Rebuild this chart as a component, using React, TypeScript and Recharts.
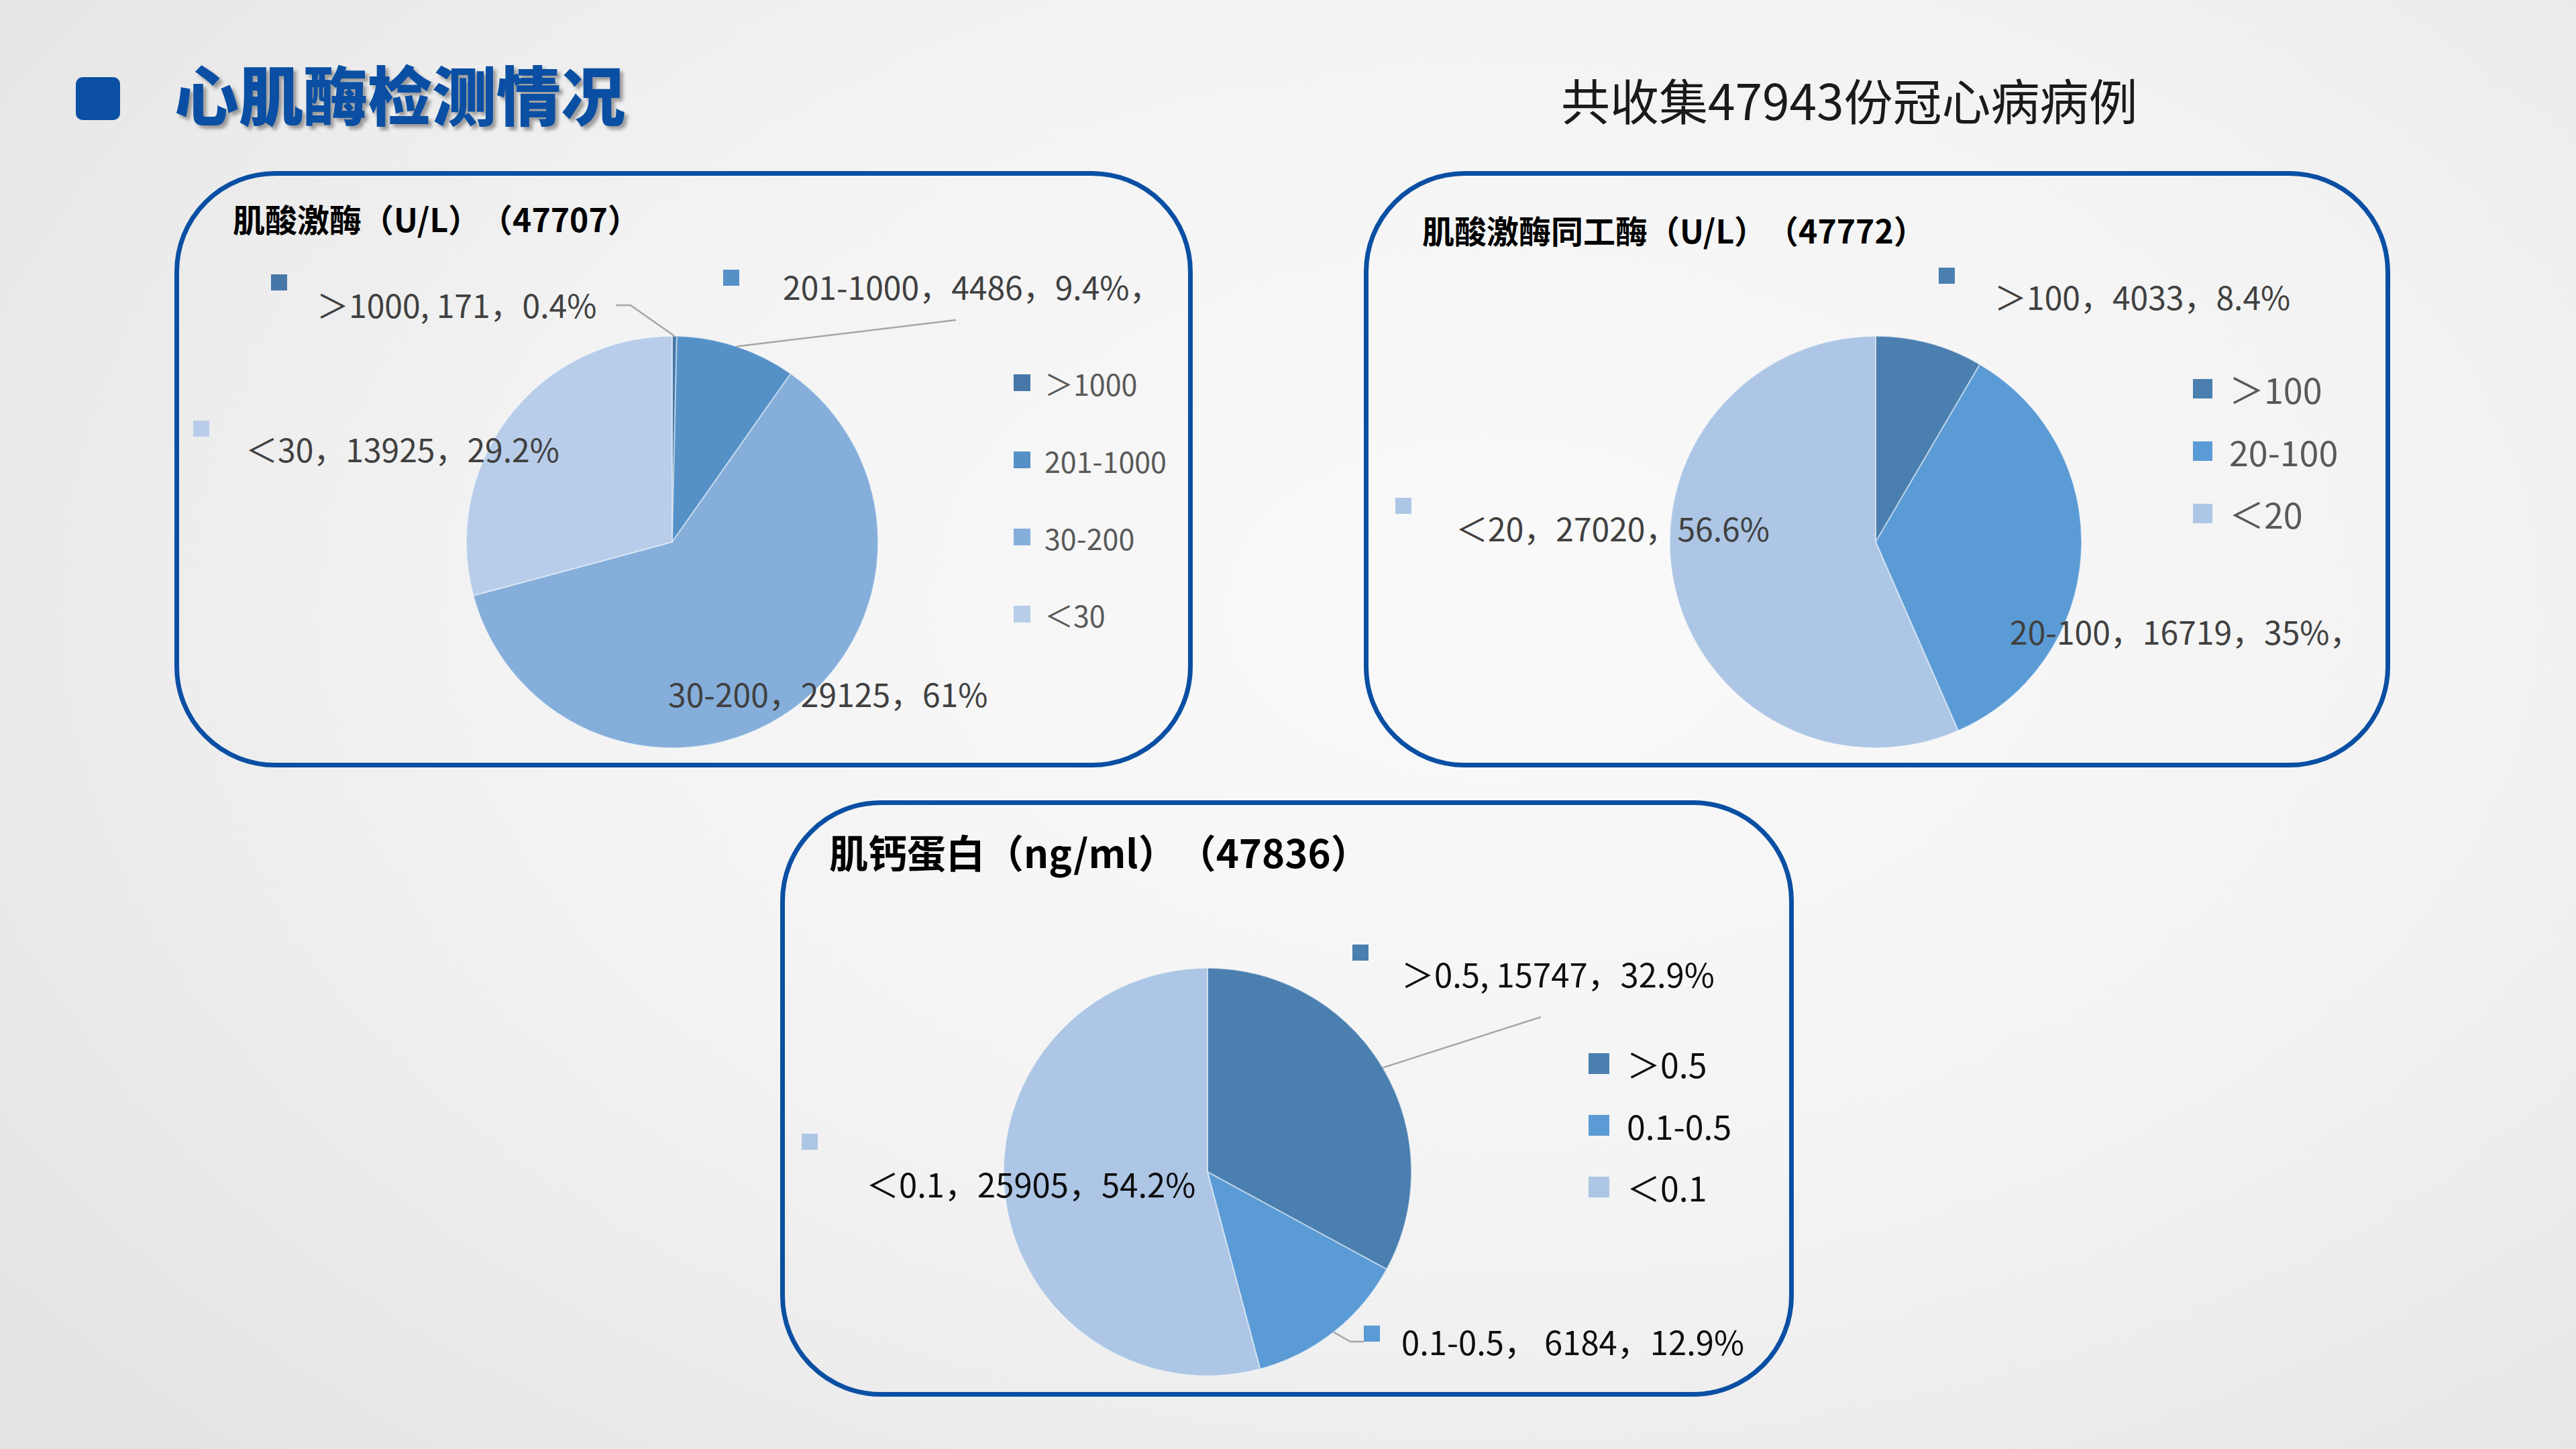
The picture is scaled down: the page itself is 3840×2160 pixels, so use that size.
import React from 'react';
import { PieChart, Pie, Cell, Legend } from 'recharts';

// 肌酸激酶 (CK)
const ckNames = ['＞1000', '201-1000', '30-200', '＜30'];
const ckValues = [171, 4486, 29125, 13925];
const ckLabels = ['＞1000, 171，0.4%', '201-1000，4486，9.4%，', '30-200，29125，61%', '＜30，13925，29.2%'];

// 肌酸激酶同工酶 (CK-MB)
const ckmbNames = ['＞100', '20-100', '＜20'];
const ckmbValues = [4033, 16719, 27020];
const ckmbLabels = ['＞100，4033，8.4%', '20-100，16719，35%，', '＜20，27020，56.6%'];

// 肌钙蛋白 (cTn)
const ctnNames = ['＞0.5', '0.1-0.5', '＜0.1'];
const ctnValues = [15747, 6184, 25905];
const ctnLabels = ['＞0.5, 15747，32.9%', '0.1-0.5， 6184，12.9%', '＜0.1，25905，54.2%'];

const CK_COLORS = ['#4677a8', '#5591c7', '#85aedb', '#b8cde9'];
const BLUE3 = ['#4a7faf', '#5b9bd5', '#adc6e5'];

const FONT = '"Noto Sans CJK SC", "Noto Sans", sans-serif';
const RAD = Math.PI / 180;

type LabelPos = { key: [number, number]; text: [number, number]; line?: [number, number][] };

// label offsets from pie centre, px
const ckLayout: LabelPos[] = [
  { key: [-586, -387], text: [-530, -355], line: [[-84, -353], [-62, -353]] },
  { key: [88, -394], text: [165, -382], line: [[423, -331]] },
  { key: [-66, 200], text: [-6, 225] },
  { key: [-702, -169], text: [-636, -140] },
];
const ckmbLayout: LabelPos[] = [
  { key: [106, -397], text: [177, -367] },
  { key: [130, 105], text: [200, 132] },
  { key: [-704, -54], text: [-626, -22] },
];
const ctnLayout: LabelPos[] = [
  { key: [228, -327], text: [289, -297], line: [[497, -231]] },
  { key: [245, 241], text: [289, 251], line: [[233, 253], [213, 253]] },
  { key: [-593, -45], text: [-509, 16] },
];

const polar = (cx: number, cy: number, r: number, angle: number) => ({
  x: cx + r * Math.cos(-angle * RAD),
  y: cy + r * Math.sin(-angle * RAD),
});

const makeLabel = (texts: string[], layout: LabelPos[], colors: string[], fontSize: number, color: string) =>
  (props: any) => {
    const { cx, cy, midAngle, outerRadius, index } = props;
    const L = layout[index];
    let line = null;
    if (L.line) {
      const end = polar(cx, cy, outerRadius, midAngle);
      const pts = [...L.line.map(([dx, dy]) => `${cx + dx},${cy + dy}`), `${end.x},${end.y}`].join(' ');
      line = <polyline points={pts} fill="none" stroke="#a6a6a6" strokeWidth={2.5} />;
    }
    return (
      <g key={`lbl-${index}`}>
        {line}
        <rect x={cx + L.key[0] - 12} y={cy + L.key[1] - 12} width={24} height={24} fill={colors[index]} />
        <text x={cx + L.text[0]} y={cy + L.text[1]} dominantBaseline="central" fill={color}
          style={{ fontFamily: FONT, fontSize }}>
          {texts[index]}
        </text>
      </g>
    );
  };

interface PanelProps {
  left: number; top: number; width: number; height: number;
  title: string; titleSize: number; titleX: number; titleY: number;
  names: string[]; values: number[]; labels: string[]; colors: string[];
  layout: LabelPos[]; cx: number; cy: number; r: number;
  labelSize: number; labelColor: string;
  legendX: number; legendY: number; legendRow: number; legendBox: number; legendGap: number;
  legendSize: number; legendColor: string;
}

const PiePanel: React.FC<PanelProps> = (p) => {
  const data = p.names.map((name, i) => ({ name, value: p.values[i] }));
  const renderLegend = (props: any) => {
    const payload = [...(props.payload || [])].sort(
      (a: any, b: any) => p.names.indexOf(a.value) - p.names.indexOf(b.value),
    );
    return (
      <div>
        {payload.map((item: any, i: number) => (
          <div key={i} style={{ height: p.legendRow, display: 'flex', alignItems: 'center' }}>
            <span style={{ width: p.legendBox, height: p.legendBox, background: item.color, display: 'inline-block', marginRight: p.legendGap }} />
            <span style={{ fontSize: p.legendSize, color: p.legendColor, fontFamily: FONT, whiteSpace: 'nowrap' }}>{item.value}</span>
          </div>
        ))}
      </div>
    );
  };
  return (
    <div style={{ position: 'absolute', left: p.left, top: p.top, width: p.width, height: p.height }}>
      <div style={{
        position: 'absolute', left: 0, top: 0, width: p.width, height: p.height,
        boxSizing: 'border-box', border: '7px solid #0a4fa3', borderRadius: 150,
      }} />
      <div style={{
        position: 'absolute', left: p.titleX, top: p.titleY, fontSize: p.titleSize, fontWeight: 700,
        fontFamily: FONT, color: '#000', whiteSpace: 'pre', lineHeight: 1.2,
      }}>{p.title}</div>
      <div style={{ position: 'absolute', left: 0, top: 0 }}>
        <PieChart width={p.width} height={p.height} margin={{ top: 0, right: 0, bottom: 0, left: 0 }}>
          <Pie
            data={data}
            dataKey="value"
            nameKey="name"
            cx={p.cx}
            cy={p.cy}
            outerRadius={p.r}
            startAngle={90}
            endAngle={-270}
            stroke="rgba(255,255,255,0.45)"
            strokeWidth={2}
            labelLine={false}
            label={makeLabel(p.labels, p.layout, p.colors, p.labelSize, p.labelColor)}
            isAnimationActive={false}
          >
            {data.map((d, i) => <Cell key={`cell-${i}`} fill={p.colors[i]} />)}
          </Pie>
          <Legend
            layout="vertical"
            align="right"
            verticalAlign="top"
            content={renderLegend}
            wrapperStyle={{ left: p.legendX, top: p.legendY, right: 'auto', width: 'auto' }}
          />
        </PieChart>
      </div>
    </div>
  );
};

const App: React.FC = () => {
  return (
    <div style={{
      position: 'absolute', left: 0, top: 0, width: 3840, height: 2160, overflow: 'hidden',
      background: 'radial-gradient(ellipse 75% 85% at 58% 42%, #fafafa 0%, #f3f3f3 50%, #e3e3e3 100%)',
      fontFamily: FONT,
    }}>
      <div style={{ position: 'absolute', left: 113, top: 115, width: 66, height: 64, background: '#0a4fa3', borderRadius: 10 }} />
      <div style={{
        position: 'absolute', left: 260, top: 80, fontSize: 96, fontWeight: 900, color: '#0a4fa3',
        textShadow: '5px 5px 5px rgba(0,0,0,0.35)', whiteSpace: 'nowrap', lineHeight: 1.2,
      }}>心肌酶检测情况</div>
      <div style={{
        position: 'absolute', left: 2327, top: 104, fontSize: 73, color: '#1a1a1a', whiteSpace: 'nowrap', lineHeight: 1.2,
      }}>共收集47943份冠心病病例</div>

      <PiePanel
        left={260} top={255} width={1518} height={889}
        title="肌酸激酶（U/L）　（47707）" titleSize={48} titleX={87} titleY={42}
        names={ckNames} values={ckValues} labels={ckLabels} colors={CK_COLORS}
        layout={ckLayout} cx={742} cy={553} r={307}
        labelSize={48} labelColor="#404040"
        legendX={1251} legendY={258} legendRow={115} legendBox={25} legendGap={21}
        legendSize={43} legendColor="#595959"
      />
      <PiePanel
        left={2033} top={255} width={1530} height={889}
        title="肌酸激酶同工酶（U/L）　（47772）" titleSize={48} titleX={87} titleY={59}
        names={ckmbNames} values={ckmbValues} labels={ckmbLabels} colors={BLUE3}
        layout={ckmbLayout} cx={763} cy={553} r={307}
        labelSize={48} labelColor="#404040"
        legendX={1236} legendY={278} legendRow={93} legendBox={29} legendGap={25}
        legendSize={52} legendColor="#595959"
      />
      <PiePanel
        left={1163} top={1193} width={1511} height={889}
        title="肌钙蛋白（ng/ml）　（47836）" titleSize={58} titleX={73} titleY={42}
        names={ctnNames} values={ctnValues} labels={ctnLabels} colors={BLUE3}
        layout={ctnLayout} cx={637} cy={554} r={304}
        labelSize={49} labelColor="#0d0d0d"
        legendX={1205} legendY={346} legendRow={92} legendBox={31} legendGap={26}
        legendSize={50} legendColor="#0d0d0d"
      />
    </div>
  );
};

export default App;
